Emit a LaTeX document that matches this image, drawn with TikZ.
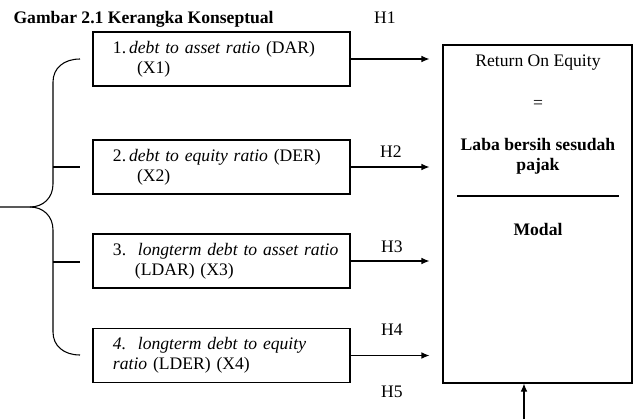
\documentclass[tikz,border=0pt]{standalone}
\usepackage{fontspec}
\setmainfont{Liberation Serif}
\usetikzlibrary{arrows.meta}

\begin{document}
\begin{tikzpicture}[x=0.75pt,y=-0.75pt,line width=0.8pt,
  every node/.style={font=\fontsize{13.2}{15}\selectfont},
  varbox/.style={draw,minimum width=192.75pt,minimum height=40.5pt,
    text width=162.75pt,inner xsep=15pt,align=left},
  link/.style={-{Latex[length=6pt,width=5pt]},shorten >=9.75pt}]
  \useasboundingbox (0,0) rectangle (633,419);
  \node[anchor=base west,inner sep=0pt,font=\fontsize{13.2}{15}\selectfont\bfseries] (judul) at (13,23) {Gambar 2.1 Kerangka Konseptual};

  \node[varbox] (x1) at (221.5,59) {\mbox{1.\,\textit{debt to asset ratio} (DAR)}\\\hspace*{18pt}(X1)};
  \node[varbox] (x2) at (221.5,167) {\mbox{2.\,\textit{debt to equity ratio} (DER)}\\\hspace*{18pt}(X2)};
  \node[varbox] (x3) at (221.5,261) {\mbox{3.\ \ \textit{longterm debt to asset ratio}}\\\hspace*{16.5pt}(LDAR) (X3)};
  \node[varbox] (x4) at (221.5,355.5) {\mbox{\textit{4.\ \ longterm debt to equity}}\\\textit{ratio} (LDER) (X4)};

  \node[draw,minimum width=141.75pt,minimum height=253.5pt] (roe) at (537.5,214) {};
  \node (judulroe) at (538,63) {Return On Equity};
  \node (sama) at (538,104) {=};
  \node[align=center,font=\fontsize{13.2}{15}\selectfont\bfseries] (laba) at (538,156) {Laba bersih sesudah\\pajak};
  \draw (457,196) -- (619,196);
  \node[font=\fontsize{13.2}{15}\selectfont\bfseries] (modal) at (538,229) {Modal};

  \foreach \i in {1,...,4}
    \draw[link] (x\i.east) -- (x\i.east -| roe.west);
  \coordinate (bawah) at (524,419);
  \draw[link,shorten >=0pt] (bawah) -- (bawah |- roe.south);

  \node (h1) at (385,18) {H1};
  \node (h2) at (391,152) {H2};
  \node (h3) at (392,247) {H3};
  \node (h4) at (392,330) {H4};
  \node (h5) at (392,392) {H5};

  \draw (80,59) .. controls (64,59) and (53,68) .. (53,82) -- (53,184)
    .. controls (53,198) and (43,207) .. (30,207) -- (0,207);
  \draw (30,207) .. controls (43,207) and (53,216) .. (53,230) -- (53,332)
    .. controls (53,346) and (64,355) .. (80,355);
  \draw (53,167) -- (80,167);
  \draw (53,262) -- (80,262);
\end{tikzpicture}
\end{document}
